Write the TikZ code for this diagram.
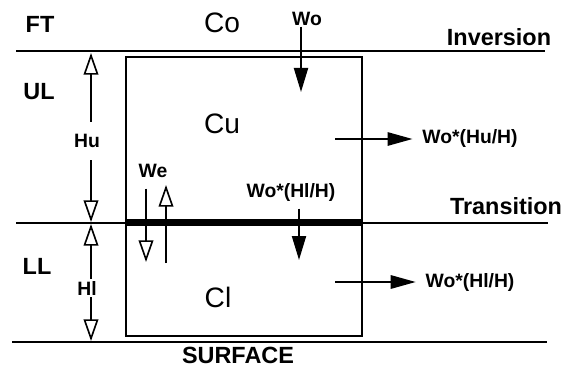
\documentclass[tikz,border=0pt]{standalone}
\usepackage{fontspec}
\setmainfont{Liberation Sans}
\usetikzlibrary{arrows.meta}
\tikzset{
  lbl/.style={font=\bfseries\fontsize{20}{20}\selectfont, inner sep=0pt},
  flux/.style={font=\bfseries\fontsize{16.5}{16.5}\selectfont, inner sep=0pt},
  conc/.style={font=\fontsize{24}{24}\selectfont, inner sep=0pt},
  openhead/.style={line width=1.4pt, -{Triangle[open,length=0.65cm,width=0.44cm]}},
  fillhead/.style={line width=1.7pt, -{Triangle[length=0.72cm,width=0.42cm]}},
  sidehead/.style={line width=1.7pt, -{Triangle[length=0.75cm,width=0.4cm]}},
}
\begin{document}
\begin{tikzpicture}[x=0.03cm, y=-0.03cm, line width=1.5pt]
\useasboundingbox (0,0) rectangle (571,368);

% layers
\draw (16,51) -- (545,51);
\draw (16,223) -- (548,223);
\draw (12,342) -- (547,342);
\draw (126,57) rectangle (362,336);
\fill (126,219) rectangle (362,226);

% labels
\node[lbl] (ft) at (40,24) {FT};
\node[lbl] (ul) at (39,92) {UL};
\node[lbl] (ll) at (37,266) {LL};
\node[lbl] (inv) at (499,37) {Inversion};
\node[lbl] (trans) at (506,206) {Transition};
\node[lbl] (surf) at (238,355) {SURFACE};
\node[conc] (co) at (222,23) {Co};
\node[conc] (cu) at (222,124) {Cu};
\node[conc] (cl) at (218,297) {Cl};

% heights
\coordinate (hutop) at (91,53);
\coordinate (hubot) at (91,222);
\coordinate (hltop) at (91,224);
\coordinate (hlbot) at (91,341);
\node[flux, minimum height=1.1cm] (hu) at (87,141) {Hu};
\node[flux, minimum height=0.5cm] (hl) at (87,288) {Hl};
\draw[openhead] (hu.north -| hutop) -- (hutop);
\draw[openhead] (hu.south -| hubot) -- (hubot);
\draw[openhead] (hl.north -| hltop) -- (hltop);
\draw[openhead] (hl.south -| hlbot) -- (hlbot);

% entrainment
\node[flux] (we) at (153,171) {We};
\coordinate (wedown) at (146,262);
\coordinate (weupbot) at (166,263);
\coordinate (weuptip) at (166,185);
\draw[openhead] ([yshift=-0.3cm]we.south -| wedown) -- (wedown);
\draw[openhead] (weupbot) -- (weuptip);

% fluxes
\node[flux] (wo) at (307,19) {Wo};
\coordinate (wotip) at (301,92);
\draw[fillhead] (wo.south -| wotip) -- (wotip);

\node[flux] (wohl) at (291,192) {Wo*(Hl/H)};
\coordinate (hltip) at (299,260);
\draw[fillhead] ([yshift=-0.2cm]wohl.south -| hltip) -- (hltip);

\node[flux] (wohu) at (470,139) {Wo*(Hu/H)};
\node[flux] (wohlout) at (470,282) {Wo*(Hl/H)};
\coordinate (cuout) at (335,139);
\coordinate (clout) at (335,282);
\draw[sidehead] (cuout) -- ([xshift=-0.27cm]wohu.west);
\draw[sidehead] (clout) -- ([xshift=-0.27cm]wohlout.west);
\end{tikzpicture}
\end{document}
